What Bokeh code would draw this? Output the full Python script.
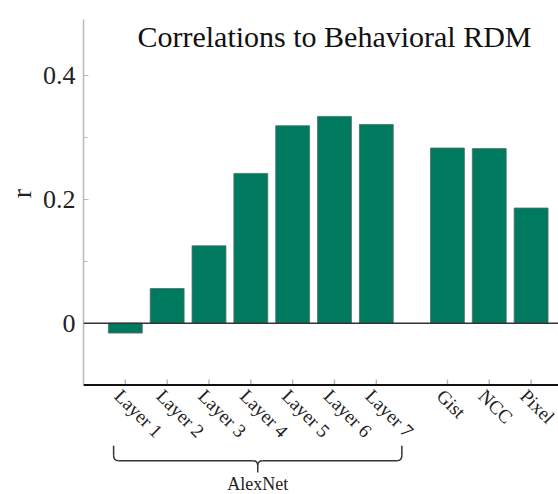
import math
from bokeh.plotting import figure
from bokeh.layouts import column
from bokeh.models import Range1d, FixedTicker, Span
from bokeh.core.properties import value
from bokeh.embed import file_html
from bokeh.resources import INLINE

# ---- data ----
categories = ["Layer 1", "Layer 2", "Layer 3", "Layer 4", "Layer 5", "Layer 6", "Layer 7",
              "Gist", "NCC", "Pixel"]
positions = [1, 2, 3, 4, 5, 6, 7, 8.7, 9.7, 10.7]
r_values = [-0.016, 0.056, 0.125, 0.242, 0.319, 0.334, 0.321, 0.283, 0.282, 0.186]
y_ticks = [0, 0.2, 0.4]
y_minor_ticks = [0.1, 0.3]
group_label = "AlexNet"
title_text = "Correlations to Behavioral RDM"
y_label = "r"

SERIF = "Liberation Serif"
GREEN = "#007A5E"

x_range = Range1d(0, 11.355)

# ---- main chart ----
p = figure(width=558, height=386, output_backend="svg", toolbar_location=None,
           x_range=x_range, y_range=Range1d(-0.1023, 0.5213),
           x_axis_location=None, min_border_left=83, min_border_right=0,
           min_border_top=0, min_border_bottom=0)
p.xgrid.visible = False
p.ygrid.visible = False
p.outline_line_color = None
p.background_fill_color = "white"

ya = p.yaxis[0]
ya.ticker = FixedTicker(ticks=y_ticks, minor_ticks=y_minor_ticks)
ya.major_label_overrides = {0: "0", 0.2: "0.2", 0.4: "0.4"}
ya.bounds = (-0.1, 0.49)
ya.axis_line_color = "#b8b8b8"
ya.axis_line_width = 1.5
ya.major_tick_in = 5
ya.major_tick_out = 0
ya.minor_tick_in = 4
ya.minor_tick_out = 0
ya.major_tick_line_color = "#b8b8b8"
ya.minor_tick_line_color = "#b8b8b8"
ya.major_label_text_font = SERIF
ya.major_label_text_font_size = "26px"
ya.major_label_text_color = "#222222"
ya.major_label_standoff = 8
ya.axis_label = y_label
ya.axis_label_text_font = SERIF
ya.axis_label_text_font_size = "28px"
ya.axis_label_text_font_style = "normal"
ya.axis_label_text_color = "#222222"
ya.axis_label_standoff = 3

p.vbar(x=positions, top=r_values, bottom=0, width=0.81,
       fill_color=GREEN, line_color="#4f6f66", line_width=0.8)

p.add_layout(Span(location=0, dimension="width", line_color="#333333", line_width=1.5))
p.add_layout(Span(location=-0.1, dimension="width", line_color="#111111", line_width=2))

p.segment(x0=positions, y0=[-0.1] * len(positions), x1=positions,
          y1=[-0.1 + 0.009] * len(positions), line_color="#b8b8b8", line_width=1.5)

p.text(x=[6.0], y=[0.463], text=[title_text], text_align="center", text_baseline="alphabetic",
       text_font=value(SERIF), text_font_size="30px", text_color="#111111")

# ---- category labels and AlexNet brace (same x scale, continued y scale) ----
q = figure(width=558, height=108, output_backend="svg", toolbar_location=None,
           x_range=x_range, y_range=Range1d(-0.2767, -0.1023),
           x_axis_location=None, y_axis_location=None, min_border_left=83,
           min_border_right=0, min_border_top=0, min_border_bottom=0)
q.xgrid.visible = False
q.ygrid.visible = False
q.outline_line_color = None
q.background_fill_color = "white"

q.text(x=positions, y=[-0.105] * len(positions), text=categories, angle=-math.pi / 4,
       text_align="left", text_baseline="top", x_offset=0, y_offset=-3,
       text_font=value(SERIF), text_font_size="19px", text_color="#222222")

bx0 = positions[0] - 0.28
bx1 = positions[6] + 0.61
bc = (bx0 + bx1) / 2
y_top, y_mid, y_tip = -0.198, -0.222, -0.241
rx, ry = 0.12, 0.008
bc_col = "#333333"
q.segment(x0=[bx0, bx1, bx0 + rx, bc + rx, bc], y0=[y_top, y_top, y_mid, y_mid, y_mid - ry],
          x1=[bx0, bx1, bc - rx, bx1 - rx, bc], y1=[y_mid + ry, y_mid + ry, y_mid, y_mid, y_tip],
          line_color=bc_col, line_width=1.5)
q.quadratic(x0=[bx0, bx1, bc - rx, bc + rx], y0=[y_mid + ry, y_mid + ry, y_mid, y_mid],
            x1=[bx0 + rx, bx1 - rx, bc, bc], y1=[y_mid, y_mid, y_mid - ry, y_mid - ry],
            cx=[bx0, bx1, bc, bc], cy=[y_mid, y_mid, y_mid, y_mid],
            line_color=bc_col, line_width=1.5)
q.text(x=[bc], y=[y_tip], text=[group_label], text_align="center", text_baseline="top",
       y_offset=2, text_font=value(SERIF), text_font_size="18px", text_color="#222222")

layout = column(p, q, spacing=0)
open("out.html", "w").write(file_html(layout, INLINE))
